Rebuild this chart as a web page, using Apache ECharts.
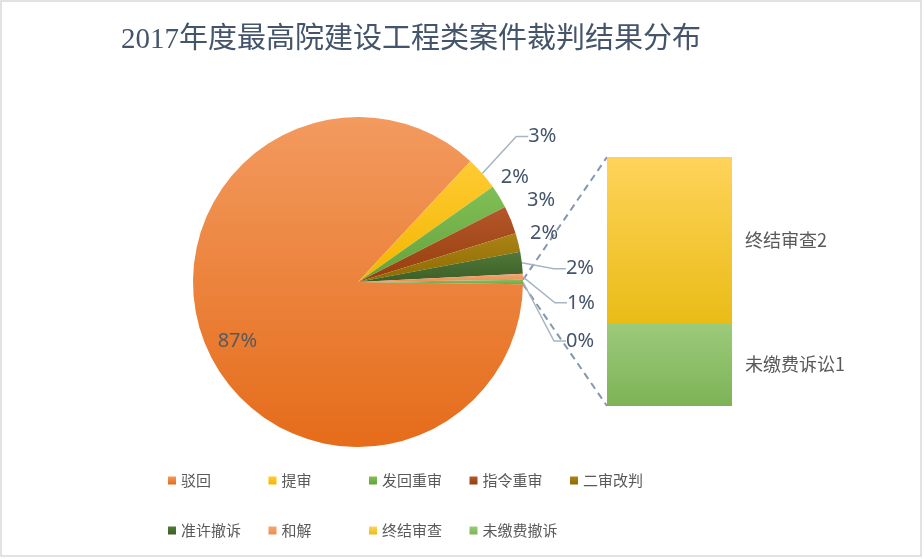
<!DOCTYPE html>
<html>
<head>
<meta charset="utf-8">
<title>2017年度最高院建设工程类案件裁判结果分布</title>
<script src="https://cdn.jsdelivr.net/npm/echarts@6/dist/echarts.min.js"></script>
<style>
html, body { margin: 0; padding: 0; background: #fff; }
#main { width: 924px; height: 559px; }
</style>
</head>
<body>
<div id="main"></div>
<script>
// 饼图分类与案件数
var pieNames = ['驳回', '提审', '发回重审', '指令重审', '二审改判', '准许撤诉', '和解'];
var pieValues = [607, 23, 16, 19, 13, 15, 4];
// 右侧条形（“其他”拆分）
var barNames = ['终结审查', '未缴费撤诉'];
var barLabels = ['终结审查', '未缴费诉讼'];
var barValues = [2, 1];

var otherValue = barValues[0] + barValues[1];
var total = 0;
pieValues.forEach(function (v) { total += v; });
total += otherValue;
var otherDeg = otherValue / total * 360;
var startAngle = -otherDeg / 2;

var cx = 358, cy = 282, R = 165;
var gridLeft = 607, gridTop = 157, gridW = 125, gridH = 249;

function grad(a, b) {
	return new echarts.graphic.LinearGradient(0, 0, 0, 1, [
		{ offset: 0, color: a }, { offset: 1, color: b }
	]);
}

var legendColors = ['#ED7D31', '#FFC000', '#70AD47', '#9E480E', '#997300', '#43682B', '#F1975A', '#FFCD33', '#8CC168'];
var sliceFill = [
	['#F39A5F', '#E56C1A'],
	['#FFCB33', '#F2B500'],
	['#80BF56', '#65A13D'],
	['#B4562A', '#953F0C'],
	['#AB8417', '#8E6A00'],
	['#50793A', '#3C5E26'],
	['#F4A572', '#EE8E50'],
	['#86BD60', '#6FA84A']
];
var barFill = [['#FFD35A', '#E9BC17'], ['#9CCB7B', '#7DB356']];

// 标签位置微调：[相对锚点的横向距离, 纵向偏移]
var labelMoves = { 1: [46, -37], 5: [44, 6], 6: [44, 26], 7: [43, 59] };
// 无引导线标签的距离设置：[length, distanceToLabelLine]
var plainLabels = { 2: [38, -31], 3: [53, -33], 4: [39, -26] };

var pieData = pieNames.map(function (n, i) {
	var item = {
		name: n,
		value: pieValues[i],
		itemStyle: { color: grad(sliceFill[i][0], sliceFill[i][1]) }
	};
	if (i === 0) {
		item.label = { position: 'inside', color: '#595959' };
	}
	if (plainLabels[i]) {
		item.label = { distanceToLabelLine: plainLabels[i][1] };
		item.labelLine = { show: false, length: plainLabels[i][0], length2: 0 };
	}
	return item;
});
pieData.push({
	name: '其他',
	value: otherValue,
	itemStyle: { color: grad(sliceFill[7][0], sliceFill[7][1]) }
});

var chart = echarts.init(document.getElementById('main'));

// 先画下段（未缴费），再叠上段（终结审查）
var barSeries = [1, 0].map(function (i) {
	return {
		name: barNames[i],
		type: 'bar',
		stack: 'other',
		barWidth: '100%',
		data: [barValues[i]],
		itemStyle: { color: grad(barFill[i][0], barFill[i][1]) },
		label: {
			show: true,
			position: 'right',
			distance: 13,
			color: '#595959',
			fontSize: 18,
			fontFamily: 'Noto Sans CJK SC',
			formatter: function () { return barLabels[i] + barValues[i]; }
		}
	};
});

// 图例：五列两行，每列一个竖排图例
var allNames = pieNames.concat(barNames);
var legends = [];
for (var k = 0; k < 5; k++) {
	var col = [allNames[k]];
	if (allNames[k + 5]) col.push(allNames[k + 5]);
	legends.push({
		orient: 'vertical',
		left: 163 + k * 100.5,
		top: 468,
		icon: 'rect',
		itemWidth: 8,
		itemHeight: 8,
		itemGap: 35,
		selectedMode: false,
		data: col,
		textStyle: { color: '#595959', fontSize: 15, fontFamily: 'Noto Sans CJK SC' }
	});
}

option = {
	animation: false,
	backgroundColor: '#fff',
	title: {
		text: '2017年度最高院建设工程类案件裁判结果分布',
		left: 116,
		top: 21,
		textStyle: {
			color: '#44546A',
			fontSize: 29,
			fontWeight: 'normal',
			fontFamily: 'Liberation Serif, Noto Sans CJK SC'
		}
	},
	color: legendColors,
	legend: legends,
	grid: { left: gridLeft, top: gridTop, width: gridW, height: gridH },
	xAxis: { type: 'category', data: ['其他'], show: false },
	yAxis: { type: 'value', min: 0, max: otherValue, show: false },
	series: [{
		name: '裁判结果',
		type: 'pie',
		center: [cx, cy],
		radius: R,
		startAngle: startAngle,
		clockwise: true,
		avoidLabelOverlap: false,
		silent: true,
		label: {
			show: true,
			position: 'outside',
			color: '#44546A',
			fontSize: 20,
			fontFamily: 'Noto Sans',
			formatter: function (p) { return Math.round(p.percent) + '%'; }
		},
		labelLine: {
			show: true,
			length: 10,
			length2: 12,
			lineStyle: { color: '#A9B4C2', width: 1.5 }
		},
		labelLayout: function (p) {
			if (p.dataIndex === 0) {
				return { dx: -21, dy: 13 };
			}
			var m = labelMoves[p.dataIndex];
			if (m && p.labelLinePoints) {
				var a = p.labelLinePoints[0];
				return { x: a[0] + m[0], y: a[1] + m[1] };
			}
			return {};
		},
		data: pieData
	}].concat(barSeries)
};
chart.setOption(option);

// 饼图“其他”扇区与右侧条形之间的虚线
var aTop = (startAngle + otherDeg) * Math.PI / 180;
var aBot = startAngle * Math.PI / 180;
var barTopY = chart.convertToPixel({ yAxisIndex: 0 }, otherValue);
var barBotY = chart.convertToPixel({ yAxisIndex: 0 }, 0);
chart.setOption({
	graphic: [{
		type: 'rect',
		shape: { x: 1, y: 1, width: 920, height: 555 },
		style: { fill: 'none', stroke: '#D9D9D9', lineWidth: 1.5 },
		silent: true
	}, {
		type: 'line',
		shape: { x1: cx + R * Math.cos(aTop), y1: cy - R * Math.sin(aTop), x2: gridLeft, y2: barTopY },
		style: { stroke: '#8497B0', lineWidth: 2, lineDash: [7, 5] },
		silent: true
	}, {
		type: 'line',
		shape: { x1: cx + R * Math.cos(aBot), y1: cy - R * Math.sin(aBot), x2: gridLeft, y2: barBotY },
		style: { stroke: '#8497B0', lineWidth: 2, lineDash: [7, 5] },
		silent: true
	}]
});
window.addEventListener('resize', function () {
	chart.resize();
});
</script>
</body>
</html>
